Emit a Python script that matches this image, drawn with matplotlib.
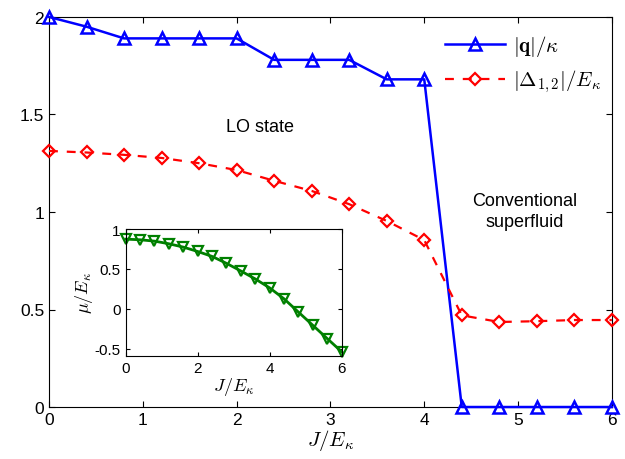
import numpy as np
import matplotlib
matplotlib.use('Agg')
import matplotlib.pyplot as plt

plt.rcParams['font.family'] = ['Liberation Sans', 'DejaVu Sans']
plt.rcParams['mathtext.fontset'] = 'cm'

J = [0, 0.4, 0.8, 1.2, 1.6, 2.0, 2.4, 2.8, 3.2, 3.6, 4.0, 4.4, 4.8, 5.2, 5.6, 6.0]
q = [2.0, 1.95, 1.89, 1.89, 1.89, 1.89, 1.78, 1.78, 1.78, 1.68, 1.68, 0, 0, 0, 0, 0]
delta = [1.313, 1.305, 1.293, 1.277, 1.25, 1.215, 1.16, 1.108, 1.04, 0.954, 0.856,
         0.47, 0.436, 0.44, 0.446, 0.446]
mu = [0.875, 0.867, 0.85, 0.817, 0.775, 0.72, 0.658, 0.571, 0.475, 0.375, 0.2625,
      0.125, -0.042, -0.208, -0.375, -0.54]

fig = plt.figure(figsize=(6.25, 4.6), dpi=100)
ax = fig.add_axes([0.0784, 0.113, 0.9006, 0.848])

ax.plot(J, q, '-', color='blue', lw=1.8, marker='^', ms=9, mfc='none', mew=1.8,
        label=r'$|\mathbf{q}|/\kappa$', clip_on=False, zorder=3)
ax.plot(J, delta, '--', color='red', lw=1.6, marker='D', ms=6.5, mfc='none', mew=1.6,
        label=r'$|\Delta_{1,2}|/E_\kappa$', dashes=(4, 4), clip_on=False, zorder=3)
ax.set_xlim(0, 6)
ax.set_ylim(0, 2)
ax.set_xticks([0, 1, 2, 3, 4, 5, 6])
ax.set_yticks([0, 0.5, 1, 1.5, 2])
ax.set_yticklabels(['0', '0.5', '1', '1.5', '2'])
ax.tick_params(direction='in', labelsize=12.5, top=True, right=True, length=4)
ax.set_xlabel(r'$J/E_\kappa$', fontsize=15, labelpad=0)
ax.legend(loc='upper right', frameon=False, fontsize=15, handlelength=2.9,
          bbox_to_anchor=(1.0, 0.985), labelspacing=0.45, borderaxespad=0.1,
          handletextpad=0.4)
ax.annotate('Conventional\nsuperfluid', xy=(525 / 625, 1 - 212 / 460), xycoords='figure fraction',
            fontsize=13, ha='center', va='center', linespacing=1.25)
ax.annotate('LO state', xy=(260 / 625, 1 - 127 / 460), xycoords='figure fraction',
            fontsize=13, ha='center', va='center')

ins = fig.add_axes([0.201, 0.2246, 0.3456, 0.275])
ins.plot(J, mu, '-', color='green', lw=2, marker='v', ms=7, mfc='none', mew=1.6,
         clip_on=False)
ins.set_xlim(0, 6)
ins.set_ylim(-0.59, 1)
ins.set_xticks([0, 2, 4, 6])
ins.set_yticks([-0.5, 0, 0.5, 1])
ins.set_yticklabels(['-0.5', '0', '0.5', '1'])
ins.tick_params(direction='in', labelsize=11, top=True, right=True, length=3)
ins.set_xlabel(r'$J/E_\kappa$', fontsize=13, labelpad=0)
ins.set_ylabel(r'$\mu/E_\kappa$', fontsize=13, labelpad=0)

fig.savefig('out.png', dpi=100)
